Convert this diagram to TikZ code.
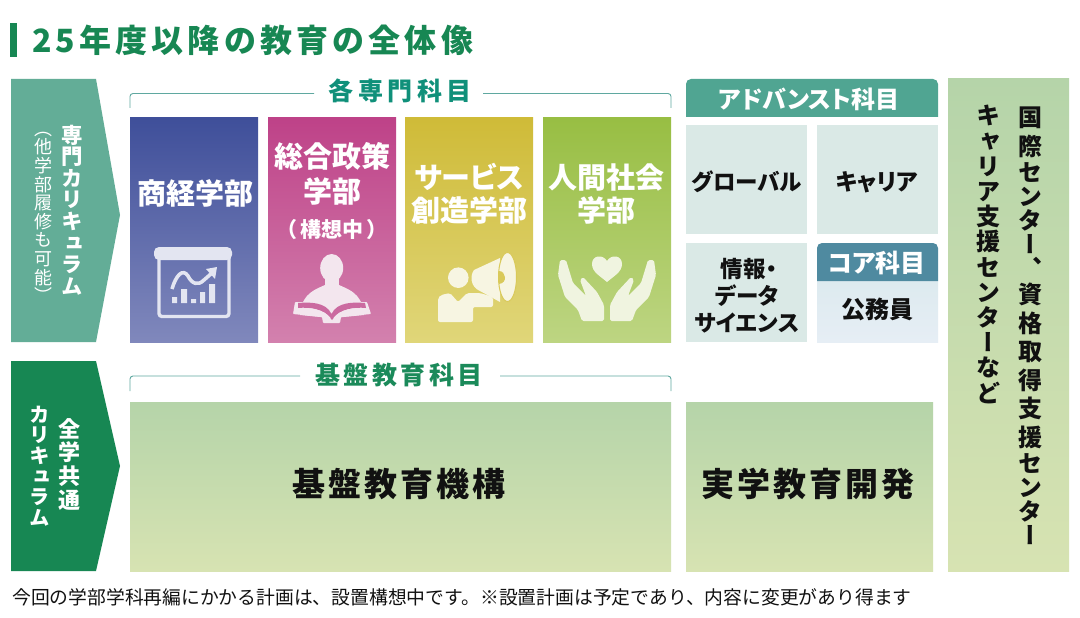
\documentclass[tikz,border=0pt]{standalone}
\usepackage{fontspec}
\setmainfont{Noto Sans CJK JP}
\newfontfamily\jpp[RawFeature=+palt]{Noto Sans CJK JP}
\newfontfamily\jpv[RawFeature=+vert]{Noto Sans CJK JP}
\newcommand\pxs[1]{\fontsize{#1}{#1}\selectfont}
\makeatletter
\newcommand\vtext[2]{\@tfor\vtc:=#2\do{\vbox to #1{\vss\hbox to 1.1em{\vrule height .88em depth .12em width 0pt\hss\vtc\hss}\vss}}}
\makeatother
\newcommand\vstack[1]{\vbox{\offinterlineskip #1}}
\definecolor{titlegreen}{HTML}{178753}
\definecolor{teal1}{HTML}{63AD97}
\definecolor{teal2}{HTML}{50A592}
\definecolor{coreblue}{HTML}{4F8AA0}
\definecolor{mint}{HTML}{DAE9E6}
\definecolor{brk}{HTML}{5FA8A0}
\definecolor{heading1}{HTML}{10907A}
\definecolor{heading2}{HTML}{1B8A5A}
\definecolor{ink}{HTML}{111111}
\tikzset{
  x=1pt,y=-1pt,
  boxn/.style={rectangle,anchor=north west,inner sep=0pt,outer sep=0pt},
  dept/.style={boxn,minimum width=128pt,minimum height=224pt},
  cell/.style={boxn,minimum width=121pt,fill=mint},
  basebox/.style={boxn,top color=basetop,bottom color=basebot},
  lbl/.style={inner sep=0pt,align=center,text=white,font=\jpp\bfseries\pxs{29},text depth=0pt},
  blk/.style={inner sep=0pt,align=center,text=ink,font=\jpp\bfseries\pxs{23}},
  vt/.style={inner sep=0pt,anchor=north},
  bracket/.style={draw=brk,line width=.9pt,rounded corners=3pt},
}
\definecolor{basetop}{HTML}{B5D4A9}
\definecolor{basebot}{HTML}{D7E3B2}
\begin{document}
\begin{tikzpicture}
\useasboundingbox (0,0) rectangle (1080,618);
\fill[white] (0,0) rectangle (1080,618);
% title
\fill[titlegreen] (10,23) rectangle (17,57);
\node[anchor=west,inner sep=0pt,text=titlegreen,font=\bfseries\pxs{32}] (title) at (32,40) {\addfontfeature{LetterSpace=13}25年度以降の教育の全体像};
% left arrows
\fill[teal1] (11,79) -- (96,79) -- (120,215) -- (96,342) -- (11,342) -- cycle;
\fill[titlegreen] (11,361) -- (96,361) -- (120,466) -- (96,571) -- (11,571) -- cycle;
\node[vt,text=white,font=\jpv\bfseries\pxs{21.4}] (senmon) at (72,124) {\vstack{\vtext{21.6pt}{専門カリキュラム}}};
\node[vt,text=white,font=\jpv\pxs{18}] (tagaku) at (43,119) {\vstack{\vtext{18.6pt}{（他学部履修も可能）}}};
\node[vt,text=white,font=\jpv\bfseries\pxs{22}] (zengaku) at (69,417) {\vstack{\vtext{23.6pt}{全学共通}}};
\node[vt,text=white,font=\jpv\bfseries\pxs{20.5}] (kari) at (40,404) {\vstack{\vtext{20.6pt}{カリキュラム}}};
% brackets and headings
\draw[bracket] (130,108) -- (130,93.5) -- (314,93.5);
\draw[bracket] (483,93.5) -- (671,93.5) -- (671,108);
\node[inner sep=0pt,text=heading1,font=\bfseries\pxs{25}] (h1) at (400,91) {\addfontfeature{LetterSpace=18}各専門科目};
\draw[bracket] (130,391) -- (130,376) -- (300,376);
\draw[bracket] (500,376) -- (671,376) -- (671,391);
\node[inner sep=0pt,text=heading2,font=\bfseries\pxs{25}] (h2) at (399,375) {\addfontfeature{LetterSpace=14}基盤教育科目};
% department boxes
\node[dept,top color={rgb,255:red,63;green,79;blue,154},bottom color={rgb,255:red,128;green,136;blue,188}] (d1) at (130,118) {};
\node[dept,top color={rgb,255:red,190;green,66;blue,136},bottom color={rgb,255:red,211;green,129;blue,174}] (d2) at (268,118) {};
\node[dept,top color={rgb,255:red,207;green,187;blue,56},bottom color={rgb,255:red,224;green,214;blue,121}] (d3) at (405,118) {};
\node[dept,top color={rgb,255:red,152;green,190;blue,67},bottom color={rgb,255:red,189;green,213;blue,130}] (d4) at (543,118) {};
\node[lbl] (l1) at (195,192) {商経学部};
\node[lbl,text height=.88em,text depth=.12em] (l2a) at (332,164) {総合政策};
\node[lbl,text height=.88em,text depth=.12em] (l2b) at (332,199) {学部};
\node[lbl,font=\jpp\bfseries\pxs{21}] (l2c) at (332,228) {（\,構想中\,）};
\node[lbl] (l3a) at (469,176) {サービス};
\node[lbl] (l3b) at (469,209) {創造学部};
\node[lbl] (l4a) at (606,176) {人間社会};
\node[lbl] (l4b) at (606,209) {学部};
% icon: chart
\definecolor{ic1}{HTML}{E3E5F1}
\fill[ic1,rounded corners=5pt] (154,247) rectangle (232,260);
\draw[ic1,line width=3.4pt,rounded corners=3pt] (159,258) -- (159,316.5) -- (229,316.5) -- (229,258);
\fill[ic1] (172,297) rectangle (177,303) (181,289) rectangle (187,303) (191,299) rectangle (196,303) (200,292) rectangle (205,303) (209,284) rectangle (215,303);
\draw[ic1,line width=3.6pt] (172,289) .. controls (176,275) and (183,268) .. (188,276) .. controls (192,284) and (198,286) .. (204,280) -- (212,273);
\fill[ic1] (217,267) -- (206,269) -- (215,279) -- cycle;
% icon: person with book
\definecolor{ic2}{HTML}{F3E6EE}
\definecolor{ic2b}{HTML}{CB6AA0}
\fill[ic2] (331.7,268) ellipse [x radius=11.5,y radius=14];
\fill[ic2] (325,276) rectangle (339,290);
\fill[ic2] (303,302) .. controls (308,292) and (316,289) .. (325,285) -- (339,285) .. controls (348,289) and (356,292) .. (361,302) -- cycle;
\fill[ic2,rounded corners=.8pt] (295,302) -- (293,314) -- (322,317) -- (323,323) -- (340,323) -- (341,317) -- (371,314) -- (367,302) -- cycle;
\fill[ic2b] (298,303) .. controls (310,302) and (326,302) .. (331.5,314) .. controls (337,302) and (353,302) .. (365,303) -- (366,308) .. controls (355,307) and (340,308) .. (332,320) .. controls (324,308) and (309,307) .. (298,308) -- cycle;
\fill[ic2] (300,308.5) .. controls (310,308) and (324,309) .. (330.5,318) -- (300,315) -- cycle;
\fill[ic2] (364,308.5) .. controls (354,308) and (340,309) .. (333.5,318) -- (364,315) -- cycle;
% icon: megaphone
\definecolor{ic3}{HTML}{F7F5E2}
\definecolor{ic3b}{HTML}{D9C95A}
\fill[ic3] (458.3,277.7) circle [radius=10.3];
\fill[ic3,rounded corners=2pt] (438,322) -- (438,298) -- (441,295) -- (450,293) -- (458,302) -- (467,293) -- (480,293) -- (493,297) -- (493,307) -- (473,307) -- (473,322) -- cycle;
\fill[ic3] (474,270) -- (500,258) -- (500,302) -- (480,291) .. controls (470,287) and (470,275) .. (474,270) -- cycle;
\fill[ic3,draw=ic3b,line width=1pt] (507.5,277) ellipse [x radius=9,y radius=24.5];
\fill[ic3b] (499,271) .. controls (506,271) and (508,283) .. (499,284) -- cycle;
% icon: heart and hands
\definecolor{ic4}{HTML}{F0F4E0}
\fill[ic4] (607,282) .. controls (600,276) and (592,272) .. (592,264) .. controls (592,255) and (603,254) .. (607,261) .. controls (611,254) and (622,255) .. (622,264) .. controls (622,272) and (614,276) .. (607,282) -- cycle;
\fill[ic4,rounded corners=1.6pt] (560,260) -- (566,260) -- (573,283) -- (586,296) -- (580,280) -- (583,277) -- (597,292) -- (604,305) -- (604,321) -- (582,321) -- (578,310) -- (565,297) -- (558,275) -- cycle;
\fill[ic4,rounded corners=1.6pt] (654,260) -- (648,260) -- (641,283) -- (628,296) -- (634,280) -- (631,277) -- (617,292) -- (610,305) -- (610,321) -- (632,321) -- (636,310) -- (649,297) -- (656,275) -- cycle;
% advanced column
\fill[teal2] (686,117) [rounded corners=5pt] -- (686,79) -- (938,79) [sharp corners] -- (938,117) -- cycle;
\node[lbl,font=\jpp\bfseries\pxs{24}] (adv) at (809,98) {アドバンスト科目};
\node[cell,minimum height=109pt] (c1) at (686,125) {};
\node[cell,minimum height=109pt] (c2) at (817,125) {};
\node[cell,minimum height=99pt] (c3) at (686,243) {};
\node[boxn,minimum width=121pt,minimum height=61pt,top color={rgb,255:red,221;green,234;blue,239},bottom color={rgb,255:red,230;green,238;blue,245}] (c4) at (817,281) {};
\fill[coreblue] (817,281) [rounded corners=5pt] -- (817,243) -- (938,243) [sharp corners] -- (938,281) -- cycle;
\node[blk,font=\jpp\bfseries\pxs{22.5}] (t1) at (747,182) {グローバル};
\node[blk] (t2) at (877,182) {キャリア};
\node[blk,font=\jpp\bfseries\pxs{22.5}] (t3a) at (749,269) {情報・};
\node[blk,font=\jpp\bfseries\pxs{22.5}] (t3b) at (747,296) {データ};
\node[blk,font=\jpp\bfseries\pxs{22.5}] (t3c) at (747,323) {サイエンス};
\node[lbl,font=\jpp\bfseries\pxs{25}] (core) at (877,262) {コア科目};
\node[blk,font=\jpp\bfseries\pxs{24}] (t4) at (877,309) {公務員};
% right column
\node[boxn,minimum width=121pt,minimum height=492pt,top color=basetop,bottom color=basebot] (rc) at (948,79) {};
\node[vt,text=ink,font=\jpv\bfseries\pxs{24}] (v1) at (1030,103) {\vstack{\vtext{28.5pt}{国際}\vtext{24pt}{センター、}\vtext{28.5pt}{資格取得支援}\vtext{24pt}{センター}}};
\node[vt,text=ink,font=\jpv\bfseries\pxs{24}] (v2) at (988,103) {\vstack{\vtext{25.2pt}{キャリア支援センターなど}}};
% base boxes
\node[basebox,minimum width=541pt,minimum height=169pt] (b1) at (130,402) {};
\node[basebox,minimum width=247pt,minimum height=169pt] (b2) at (686,402) {};
\node[inner sep=0pt,text=ink,font=\bfseries\pxs{33}] (b1t) at (399,484) {\addfontfeature{LetterSpace=9}基盤教育機構};
\node[inner sep=0pt,text=ink,font=\bfseries\pxs{33}] (b2t) at (808,484) {\addfontfeature{LetterSpace=9}実学教育開発};
% footnote
\node[anchor=west,inner sep=0pt,text=ink,font=\pxs{18.8}] (foot) at (12,597) {今回の学部学科再編にかかる計画は、設置構想中です。※設置計画は予定であり、内容に変更があり得ます};
\end{tikzpicture}
\end{document}
